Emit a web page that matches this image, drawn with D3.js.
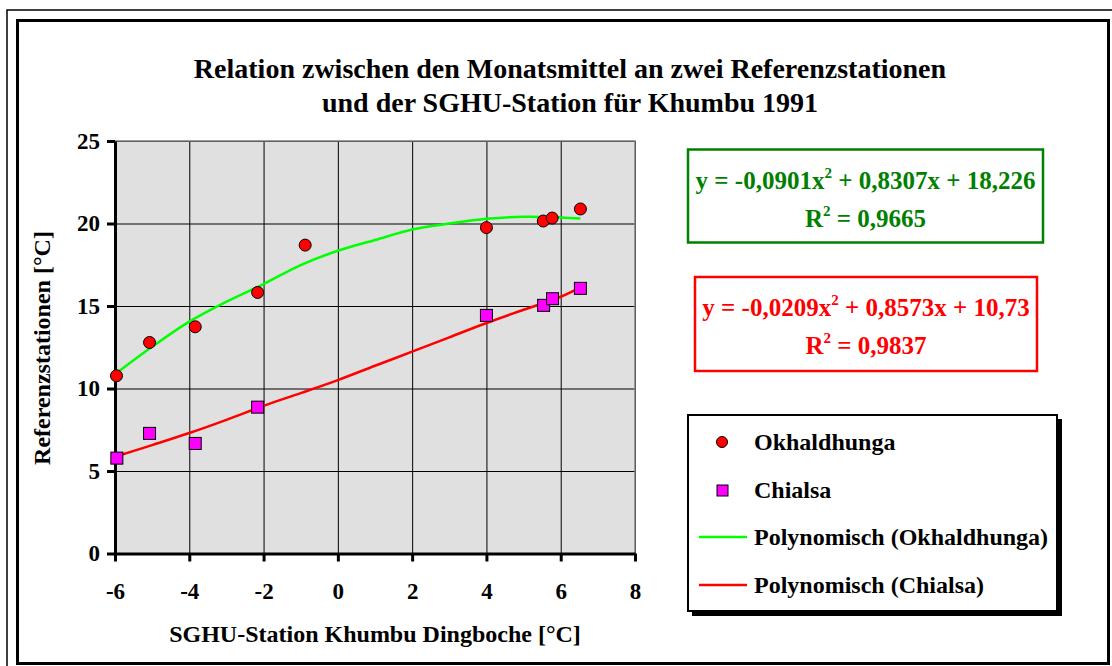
<!doctype html>
<html>
  <head>
    <meta charset="utf-8">
    <script src="https://cdnjs.cloudflare.com/ajax/libs/d3/7.8.5/d3.min.js"></script>
  <style>
    body { margin: 0; background: #fff; }
    svg { display: block; }
    text { font-family: "Liberation Serif", "Times New Roman", serif; font-weight: bold; }
    .grid line { stroke: #000; stroke-width: 1; }
    .grid path.domain { stroke: none; }
    .axis path.domain { stroke: #000; stroke-width: 3; }
    .axis .tick line { stroke: #000; stroke-width: 3; }
    .axis .tick text { fill: #000; font-size: 23px; }
  </style>
  </head>
  <body>
    <svg id="chart" width="1112" height="666"></svg>
    <script>
      var xTicks = [-6, -4, -2, 0, 2, 4, 6, 8];
      var yTicks = [0, 5, 10, 15, 20, 25];

      // monthly means
      var okhX = [-5.96, -5.07, -3.84, -2.16, -0.88, 4.0, 5.53, 5.77, 6.53];
      var okhY = [10.77, 12.79, 13.74, 15.82, 18.69, 19.75, 20.15, 20.33, 20.88];
      var chiX = [-5.95, -5.07, -3.84, -2.16, 4.0, 5.54, 5.78, 6.53];
      var chiY = [5.78, 7.28, 6.67, 8.87, 14.43, 15.04, 15.44, 16.07];

      // trend lines as drawn in the picture
      var trendX = [-6, -5, -4, -3, -2, -1, 0, 1, 2, 3, 4, 5, 6, 6.53];
      var trendOkh = [10.87, 12.53, 14.05, 15.26, 16.33, 17.48, 18.35, 19.0, 19.64, 20.0, 20.29, 20.41, 20.37, 20.31];
      var trendChi = [5.86, 6.57, 7.3, 8.1, 8.95, 9.72, 10.51, 11.38, 12.23, 13.1, 13.97, 14.77, 15.56, 16.13];

      var eqOkh = ["y = -0,0901x", "2", " + 0,8307x + 18,226", "0,9665"];
      var eqChi = ["y = -0,0209x", "2", " + 0,8573x + 10,73", "0,9837"];
      var legendLabels = ["Okhaldhunga", "Chialsa", "Polynomisch (Okhaldhunga)", "Polynomisch (Chialsa)"];

      var svg = d3.select("#chart");

      // frames
      svg.append("rect").attr("x", 7).attr("y", 10).attr("width", 1110).attr("height", 670)
        .attr("fill", "none").attr("stroke", "#000").attr("stroke-width", 1.5);
      svg.append("rect").attr("x", 17.5).attr("y", 20.5).attr("width", 1091).attr("height", 643)
        .attr("fill", "#fff").attr("stroke", "#000").attr("stroke-width", 3);

      var pLeft = 115, pRight = 635, pTop = 141, pBottom = 553.5;
      var x = d3.scaleLinear().domain([-6, 8]).range([pLeft, pRight]);
      var y = d3.scaleLinear().domain([0, 25]).range([pBottom, pTop]);

      svg.append("rect").attr("x", pLeft).attr("y", pTop)
        .attr("width", pRight - pLeft).attr("height", pBottom - pTop).attr("fill", "#e0e0e0");

      svg.append("g").attr("class", "grid")
        .attr("transform", "translate(0," + pBottom + ")")
        .call(d3.axisBottom(x).tickValues(xTicks).tickSize(-(pBottom - pTop)).tickFormat(""));
      svg.append("g").attr("class", "grid")
        .attr("transform", "translate(" + pLeft + ",0)")
        .call(d3.axisLeft(y).tickValues(yTicks).tickSize(-(pRight - pLeft)).tickFormat(""));

      svg.append("path")
        .attr("d", "M" + pLeft + "," + pTop + "H" + pRight + "V" + pBottom)
        .attr("fill", "none").attr("stroke", "#808080").attr("stroke-width", 1.5);

      svg.append("g").attr("class", "axis")
        .attr("transform", "translate(0," + pBottom + ")")
        .call(d3.axisBottom(x).tickValues(xTicks).tickSize(8).tickSizeOuter(0)
          .tickPadding(21).tickFormat(d => String(d)));
      svg.append("g").attr("class", "axis")
        .attr("transform", "translate(" + pLeft + ",0)")
        .call(d3.axisLeft(y).tickValues(yTicks).tickSize(8).tickSizeOuter(0)
          .tickPadding(7).tickFormat(d => String(d)));

      // trend lines
      var line = d3.line().curve(d3.curveCatmullRom);
      svg.append("path")
        .attr("d", line(trendX.map((d, i) => [x(d), y(trendOkh[i])])))
        .attr("fill", "none").attr("stroke", "#00ff00").attr("stroke-width", 2.5);
      svg.append("path")
        .attr("d", line(trendX.map((d, i) => [x(d), y(trendChi[i])])))
        .attr("fill", "none").attr("stroke", "#ff0000").attr("stroke-width", 2.5);

      // points
      svg.append("g").selectAll("circle").data(okhX).enter().append("circle")
        .attr("cx", d => x(d)).attr("cy", (d, i) => y(okhY[i])).attr("r", 6)
        .attr("fill", "#ff0000").attr("stroke", "#000").attr("stroke-width", 1);
      svg.append("g").selectAll("rect").data(chiX).enter().append("rect")
        .attr("x", d => x(d) - 6).attr("y", (d, i) => y(chiY[i]) - 6)
        .attr("width", 12).attr("height", 12)
        .attr("fill", "#ff00ff").attr("stroke", "#000").attr("stroke-width", 1);

      // titles
      var title = svg.append("text").attr("text-anchor", "middle").attr("font-size", 28);
      title.append("tspan").attr("x", 570).attr("y", 78).text("Relation zwischen den Monatsmittel an zwei Referenzstationen");
      title.append("tspan").attr("x", 570).attr("y", 112).text("und der SGHU-Station für Khumbu 1991");

      svg.append("text").attr("text-anchor", "middle").attr("font-size", 24)
        .attr("x", 375).attr("y", 642).text("SGHU-Station Khumbu Dingboche [°C]");
      svg.append("text").attr("text-anchor", "middle").attr("font-size", 24)
        .attr("transform", "translate(50,348) rotate(-90)").text("Referenzstationen [°C]");

      // equation boxes
      function eqBox(eq, color, bx, by, bw, bh) {
        svg.append("rect").attr("x", bx).attr("y", by).attr("width", bw).attr("height", bh)
          .attr("fill", "#fff").attr("stroke", color).attr("stroke-width", 2.5);
        var cx = bx + bw / 2;
        var t1 = svg.append("text").attr("text-anchor", "middle").attr("font-size", 25)
          .attr("fill", color).attr("x", cx).attr("y", by + 39);
        t1.append("tspan").text(eq[0]);
        t1.append("tspan").attr("dy", -11).attr("font-size", 15).text(eq[1]);
        t1.append("tspan").attr("dy", 11).text(eq[2]);
        var t2 = svg.append("text").attr("text-anchor", "middle").attr("font-size", 25)
          .attr("fill", color).attr("x", cx).attr("y", by + 77);
        t2.append("tspan").text("R");
        t2.append("tspan").attr("dy", -11).attr("font-size", 15).text("2");
        t2.append("tspan").attr("dy", 11).text(" = " + eq[3]);
      }
      eqBox(eqOkh, "#008000", 688, 149.5, 355, 93);
      eqBox(eqChi, "#ff0000", 695, 277, 342, 94);

      // legend
      var lg = svg.append("g");
      lg.append("rect").attr("x", 692).attr("y", 419).attr("width", 370).attr("height", 197).attr("fill", "#000");
      lg.append("rect").attr("x", 688).attr("y", 415).attr("width", 369).attr("height", 196)
        .attr("fill", "#fff").attr("stroke", "#000").attr("stroke-width", 2);
      var rowY = [442, 490, 537, 585];
      lg.append("circle").attr("cx", 722).attr("cy", rowY[0]).attr("r", 5.5)
        .attr("fill", "#ff0000").attr("stroke", "#000");
      lg.append("rect").attr("x", 717).attr("y", rowY[1] - 5).attr("width", 11).attr("height", 11)
        .attr("fill", "#ff00ff").attr("stroke", "#000");
      lg.append("line").attr("x1", 699).attr("x2", 747).attr("y1", rowY[2]).attr("y2", rowY[2])
        .attr("stroke", "#00ff00").attr("stroke-width", 2.5);
      lg.append("line").attr("x1", 699).attr("x2", 747).attr("y1", rowY[3]).attr("y2", rowY[3])
        .attr("stroke", "#ff0000").attr("stroke-width", 2.5);
      lg.selectAll("text.lbl").data(legendLabels).enter().append("text").attr("class", "lbl")
        .attr("x", 754).attr("y", (d, i) => rowY[i] + 8).attr("font-size", 24).text(d => d);
    </script>
  </body>
</html>
